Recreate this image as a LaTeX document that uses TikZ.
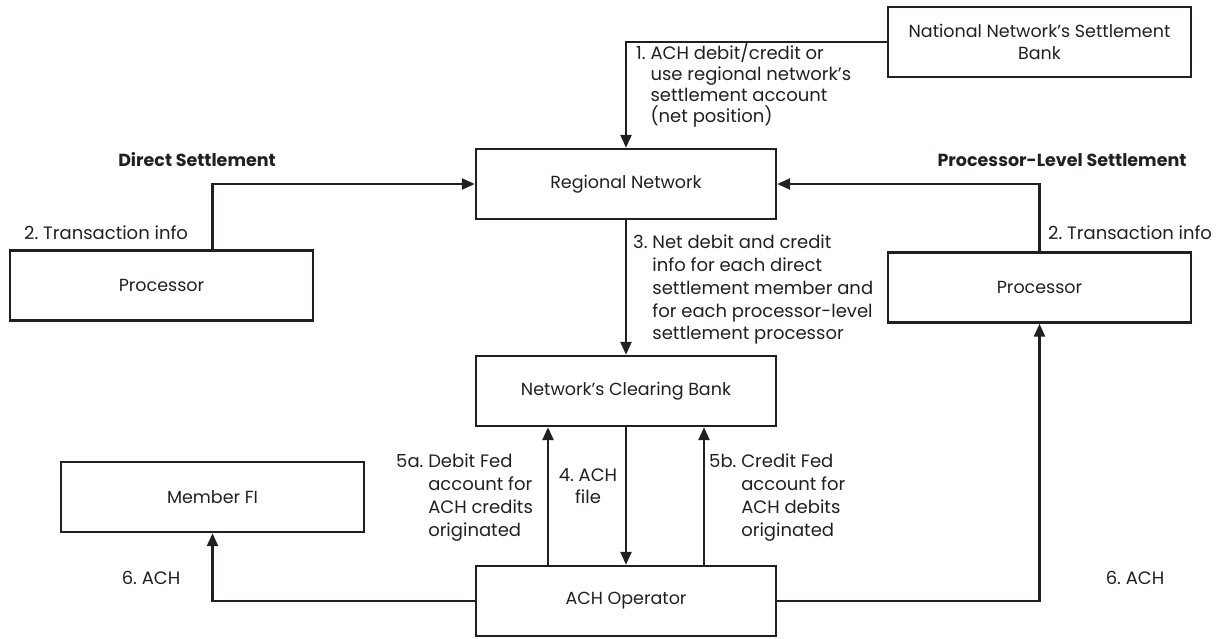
\documentclass[tikz,border=0pt]{standalone}
\usepackage{fontspec}
\setmainfont{Poppins}
\usetikzlibrary{arrows.meta}
\definecolor{ink}{HTML}{231F20}
\begin{document}
\begin{tikzpicture}[x=1pt,y=-1pt,
  box/.style={draw=ink, line width=2.4pt, minimum width=303pt, minimum height=70pt, inner sep=0pt, align=center, text=ink, font=\fontsize{17.5}{22}\selectfont},
  conn/.style={draw=ink, line width=2.4pt, -{Triangle[length=13pt,width=11pt]}},
  lbl/.style={inner sep=0pt, align=left, text=ink, font=\frenchspacing\fontsize{18}{22.7}\selectfont},
  head/.style={inner sep=0pt, text=ink, font=\bfseries\fontsize{17.5}{20}\selectfont}]
\useasboundingbox (0,0) rectangle (1217,638);

\node[box] (nat) at (1039.5,42) {National Network’s Settlement\\Bank};
\node[box, minimum width=300pt] (reg) at (626,184) {Regional Network};
\node[box] (lp) at (161.5,285.5) {Processor};
\node[box] (rp) at (1039.5,287.5) {Processor};
\node[box, minimum width=300pt] (clr) at (626,391) {Network’s Clearing Bank};
\node[box] (mfi) at (212.5,497) {Member FI};
\node[box, minimum width=300pt] (ach) at (626,601) {ACH Operator};

\node[head] (hd) at (197,160) {Direct Settlement};
\node[head] (hp) at (1062,160) {Processor-Level Settlement};

\draw[conn] (nat.west) -| (reg.north);
\draw[conn] (mfi.south |- lp.north) |- (reg.west);
\draw[conn] (rp.north) |- (reg.east);
\draw[conn] (reg.south) -- (clr.north);
\draw[conn] (clr.south) -- (ach.north);
\draw[conn] ([xshift=-78pt]ach.north) -- ([xshift=-78pt]clr.south);
\draw[conn] ([xshift=78pt]ach.north) -- ([xshift=78pt]clr.south);
\draw[conn] (ach.west) -| (mfi.south);
\draw[conn] (ach.east) -| (rp.south);

\node[lbl, anchor=north west, font=\frenchspacing\fontsize{18}{21}\selectfont] (l1) at (636,42) {1. ACH debit/credit or\\\phantom{1. }use regional network’s\\\phantom{1. }settlement account\\\phantom{1. }(net position)};
\node[lbl, anchor=west] (l2a) at (24,233) {2. Transaction info};
\node[lbl, anchor=west] (l2b) at (1048,233) {2. Transaction info};
\node[lbl, anchor=north west] (l3) at (633,235) {3. Net debit and credit\\\phantom{3. }info for each direct\\\phantom{3. }settlement member and\\\phantom{3. }for each processor-level\\\phantom{3. }settlement processor};
\node[lbl, align=center] (l4) at (588,486) {4. ACH\\file};
\node[lbl, anchor=north west] (l5a) at (396,454) {5a. Debit Fed\\\phantom{5a. }account for\\\phantom{5a. }ACH credits\\\phantom{5a. }originated};
\node[lbl, anchor=north west] (l5b) at (709,454) {5b. Credit Fed\\\phantom{5b. }account for\\\phantom{5b. }ACH debits\\\phantom{5b. }originated};
\node[lbl] (l6a) at (151,578) {6. ACH};
\node[lbl] (l6b) at (1135,578) {6. ACH};
\end{tikzpicture}
\end{document}
